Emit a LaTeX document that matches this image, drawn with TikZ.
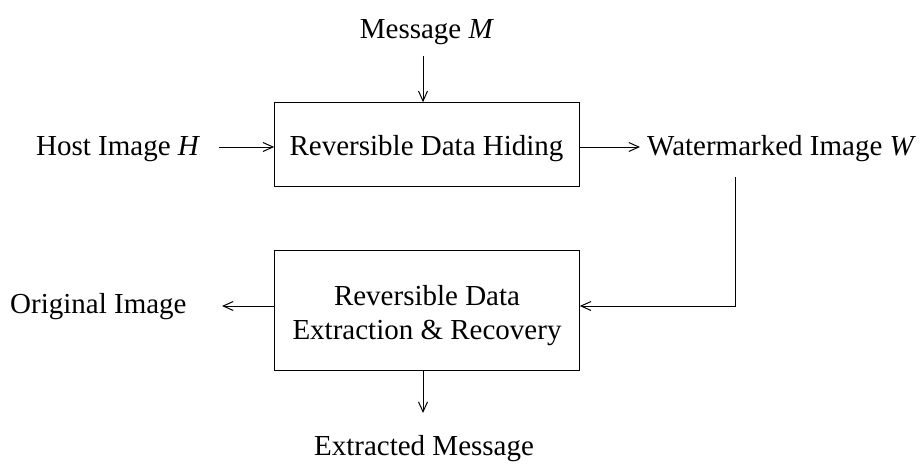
\documentclass[tikz,border=0pt]{standalone}
\usepackage{fontspec}
\setmainfont{Liberation Serif}
\usetikzlibrary{arrows.meta}
\tikzset{
  blk/.style={draw, line width=1pt, inner sep=0pt},
  lbl/.style={inner sep=0pt, anchor=base},
  arr/.style={line width=1pt, -{Straight Barb[length=10pt,width=9pt,line width=1pt]}},
  con/.style={line width=1pt}
}
\begin{document}
\begin{tikzpicture}[x=1pt,y=-1pt,font=\fontsize{29}{34}\selectfont]
\useasboundingbox (0,0) rectangle (923,464);
\node[blk, minimum width=304.6pt, minimum height=83.3pt] (hide) at (427,144.4) {};
\node[lbl] at (426.5,155) {Reversible Data Hiding};
\node[blk, minimum width=304.6pt, minimum height=119.3pt] (extr) at (427,310.4) {};
\node[lbl] at (427,305) {Reversible Data};
\node[lbl] at (427,339) {Extraction \& Recovery};
\node[lbl] (msg) at (427,38) {Message \textit{M}};
\node[lbl, anchor=base west] (host) at (36,155) {Host Image \textit{H}};
\node[lbl, anchor=base west] (wm) at (647,155) {Watermarked Image \textit{W}};
\node[lbl, anchor=base west] (orig) at (10,313) {Original Image};
\node[lbl] (ext) at (424,455) {Extracted Message};
\coordinate (m0) at (423,56);
\coordinate (h0) at (219,147);
\coordinate (w0) at (640,147);
\coordinate (o0) at (222,306);
\coordinate (e0) at (423,413);
\coordinate (v0) at (735,177);
\draw[arr] (m0) -- (m0 |- hide.north);
\draw[arr] (h0) -- (h0 -| hide.west);
\draw[arr] (h0 -| hide.east) -- (w0);
\draw[arr] (o0 -| extr.west) -- (o0);
\draw[arr] (e0 |- extr.south) -- (e0);
\draw[arr] (v0) |- (o0 -| extr.east);
\end{tikzpicture}
\end{document}
